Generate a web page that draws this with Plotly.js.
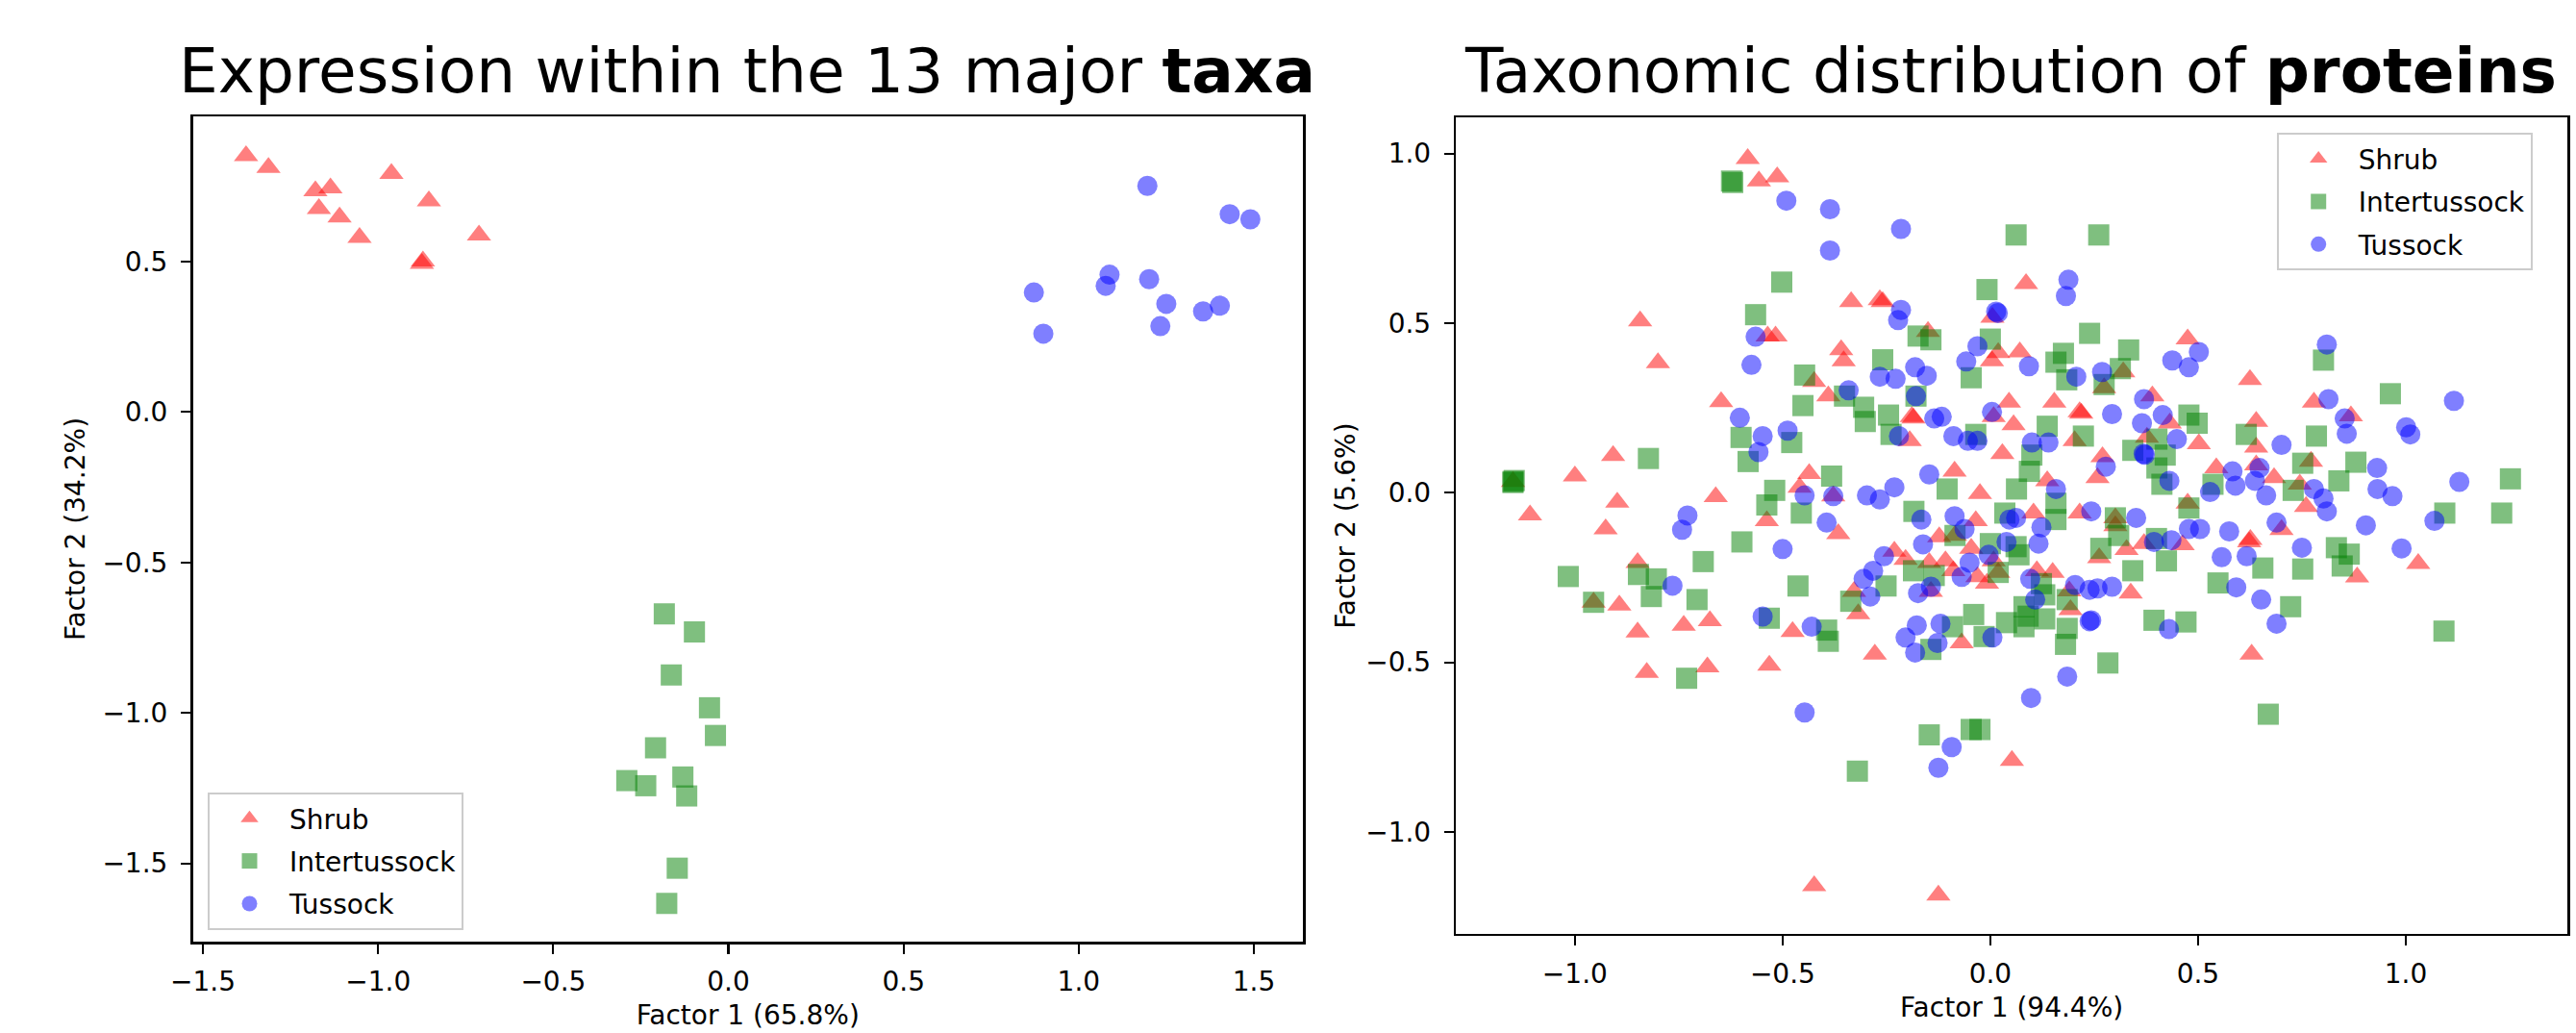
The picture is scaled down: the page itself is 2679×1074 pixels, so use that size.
<!DOCTYPE html>
<html>
<head>
<meta charset="utf-8">
<script src="https://cdn.plot.ly/plotly-3.0.1.min.js"></script>
<style>
  html, body { margin: 0; padding: 0; background: #ffffff; }
  #chart { width: 2679px; height: 1074px; }
</style>
</head>
<body>
<div id="chart"></div>
<script>
// ---- Left panel: expression within the 13 major taxa ----
const shrubL_x = [-1.377, -1.313, -1.179, -1.136, -1.169, -1.110, -1.053, -0.962, -0.855, -0.712, -0.875, -0.872];
const shrubL_y = [0.851, 0.812, 0.734, 0.744, 0.675, 0.647, 0.579, 0.792, 0.701, 0.587, 0.493, 0.501];

const interL_x = [-0.183, -0.097, -0.163, -0.054, -0.037, -0.208, -0.290, -0.236, -0.130, -0.119, -0.146, -0.176];
const interL_y = [-0.671, -0.731, -0.874, -0.983, -1.075, -1.116, -1.225, -1.242, -1.213, -1.276, -1.516, -1.633];

const tussL_x = [1.196, 1.431, 1.490, 1.088, 1.077, 1.201, 0.872, 1.250, 1.355, 1.403, 1.233, 0.899];
const tussL_y = [0.751, 0.657, 0.640, 0.456, 0.419, 0.441, 0.397, 0.359, 0.334, 0.353, 0.285, 0.260];

// ---- Right panel: taxonomic distribution of proteins ----
const shrubR_x = [-0.584, -0.557, -0.513, -0.536, -0.517, -0.843, -0.800, -0.648, -0.908, -1.000,
  -1.149, -1.108, -0.898, -0.926, -0.661, -0.538, -0.459, -0.849, -0.955, -0.893,
  -0.849, -0.738, -0.675, -0.476, -0.827, -0.681, -0.532, -0.424, -0.125, 0.052,
  -0.278, -0.069, -0.366, -0.328, -0.318, -0.231, -0.204, -0.147, -0.143, -0.108,
  -0.123, -0.085, -0.089, -0.046, -0.031, -0.008, 0.019, 0.008, 0.112, 0.150,
  0.193, 0.190, 0.262, 0.301, 0.328, 0.338, 0.370, 0.463, 0.623, 0.626,
  0.701, 0.883, 1.030, 0.629, 0.625, 0.779, 0.475, 0.640, 0.502, 0.640,
  0.868, 0.544, 0.640, 0.683, 0.745, 0.760, 0.475, 0.772, 0.086, -0.335,
  -0.266, -0.259, 0.005, -0.150, 0.019, 0.071, 0.004, 0.320, 0.274, -0.424,
  -0.359, -0.353, -0.390, -0.189, -0.185, -0.194, 0.008, 0.045, 0.056, 0.029,
  0.154, 0.215, 0.219, 0.203, 0.390, 0.432, 0.377, 0.270, 0.258, 0.137,
  0.215, 0.301, -0.086, -0.025, -0.436, -0.378, -0.035, 0.104];
const shrubR_y = [0.985, 0.919, 0.931, 0.462, 0.462, 0.506, 0.383, 0.268, 0.109, 0.049,
  0.033, -0.066, -0.028, -0.107, -0.012, -0.083, 0.016, -0.206, -0.323, -0.332,
  -0.411, -0.391, -0.378, -0.410, -0.530, -0.514, -0.509, -1.159, -1.187, -0.790,
  -0.476, -0.443, -0.121, -0.291, -0.357, -0.173, -0.197, -0.206, -0.291, -0.201,
  -0.130, -0.126, -0.230, -0.164, -0.248, -0.267, -0.235, -0.201, -0.230, -0.235,
  -0.345, -0.290, -0.192, -0.098, -0.168, -0.296, -0.150, -0.154, -0.145, -0.138,
  -0.109, -0.249, -0.209, -0.476, 0.333, 0.267, 0.453, 0.210, 0.144, 0.134,
  0.226, 0.073, 0.082, 0.044, 0.025, -0.041, -0.031, 0.092, 0.616, 0.563,
  0.569, 0.563, 0.517, 0.475, 0.413, 0.415, 0.389, 0.356, 0.309, 0.328,
  0.421, 0.389, 0.285, 0.224, 0.220, 0.153, 0.224, 0.267, 0.200, 0.115,
  0.267, 0.238, 0.234, 0.153, 0.285, 0.205, 0.163, 0.106, 0.044, 0.035,
  -0.060, -0.074, 0.063, -0.003, 0.056, -0.010, -0.083, -0.060];

const interR_x = [-0.623, -0.620, -0.502, -0.565, -0.600, -0.478, -0.583, -0.447, -0.451, -0.823,
  -1.149, -1.146, -1.149, -0.519, -0.538, -0.455, -0.598, -0.691, -0.463, -1.016, -0.847,
  -0.804, -0.816, -0.706, -0.955, -0.532, -0.731, -0.320, -0.147, -0.046, -0.025,
  0.283, -0.394, -0.390, -0.143, -0.091, -0.040, -0.015, 0.039, 0.081, 0.091,
  0.131, 0.081, 0.185, 0.181, 0.394, 0.471, -0.336, -0.251, -0.185, -0.135,
  -0.085, 0.000, 0.019, 0.069, 0.062, 0.123, 0.131, 0.185, 0.266, 0.309,
  0.343, 0.400, 0.424, 0.656, 0.548, 0.723, 0.752, 0.833, 0.864, 0.847,
  1.092, 0.669, 0.802, 0.963, 0.478, 0.498, 0.616, 0.785, 0.752, 0.880,
  0.839, 0.536, 0.729, 1.252, 1.231, 1.094, 0.478, 0.062, 0.261, -0.008,
  -0.174, -0.143, 0.239, 0.000, -0.046, 0.176, 0.158, 0.184, 0.333, 0.313,
  0.274, -0.259, -0.179, -0.351, -0.305, -0.301, -0.245, -0.239, -0.035, 0.137,
  0.224, 0.343, 0.401, 0.421, 0.401, 0.413, 0.100, 0.094, 0.063, 0.158,
  0.158, 0.301, -0.382, -0.104, -0.184, 0.035];
const interR_y = [0.919, 0.915, 0.621, 0.525, 0.163, 0.148, 0.092, 0.347, 0.257, 0.101,
  0.033, 0.036, 0.030, 0.007, -0.036, -0.060, -0.145, -0.203, -0.275, -0.247, -0.241,
  -0.254, -0.306, -0.315, -0.323, -0.370, -0.547, -0.821, -0.714, -0.698, -0.698,
  -0.502, -0.405, -0.438, -0.462, -0.395, -0.359, -0.424, -0.383, -0.395, -0.364,
  -0.372, -0.336, -0.400, -0.447, -0.376, -0.381, -0.320, -0.275, -0.230, -0.244,
  -0.126, -0.150, -0.235, -0.183, -0.159, -0.268, -0.301, -0.315, -0.164, -0.126,
  -0.230, -0.135, -0.201, -0.222, -0.266, -0.336, -0.225, -0.162, -0.181, -0.216,
  -0.408, -0.653, 0.391, 0.292, 0.229, 0.205, 0.172, 0.167, 0.087, 0.090,
  0.035, 0.025, 0.007, 0.041, -0.060, -0.060, -0.045, 0.760, 0.760, 0.599,
  0.462, 0.451, 0.470, 0.453, 0.339, 0.411, 0.385, 0.333, 0.421, 0.366,
  0.319, 0.392, 0.285, 0.285, 0.252, 0.210, 0.229, 0.172, 0.172, 0.196,
  0.167, 0.125, 0.158, 0.111, 0.073, 0.025, 0.111, 0.063, 0.011, -0.031,
  -0.079, -0.074, 0.049, 0.011, -0.055, -0.060];

const tussR_x = [-0.491, -0.565, -0.575, -0.603, -0.548, -0.488, -0.558, -0.729, -0.742, -0.447,
  -0.500, -0.765, -0.548, -0.430, -0.447, -0.093, -0.125, 0.098, 0.185, -0.204,
  -0.177, -0.181, -0.120, -0.127, 0.005, 0.239, 0.243, 0.430, -0.394, -0.305,
  -0.289, -0.282, -0.256, -0.174, -0.162, -0.143, -0.062, -0.069, -0.050, -0.004,
  0.039, 0.096, 0.108, 0.116, 0.123, 0.204, 0.239, 0.258, 0.293, 0.394,
  0.436, 0.505, 0.478, 0.575, 0.557, 0.617, 0.592, 0.652, 0.689, 0.689,
  0.750, 0.904, 0.990, 1.069, 0.810, 0.814, 1.116, 0.502, 0.478, 0.701,
  0.853, 0.858, 1.001, 1.011, 0.931, 0.932, 0.968, 1.129, 0.583, 0.590,
  0.637, 0.664, 0.648, 0.779, 0.802, 0.810, 0.529, -0.386, -0.386, -0.215,
  0.188, 0.182, -0.215, -0.222, 0.014, 0.018, -0.031, -0.058, 0.093, 0.207,
  0.269, 0.438, -0.266, -0.228, -0.181, -0.153, -0.179, -0.341, -0.135, -0.117,
  -0.220, -0.089, -0.054, -0.031, 0.004, 0.100, 0.140, 0.293, 0.365, 0.370,
  0.415, 0.369, 0.372, 0.449, 0.431, 0.278, 0.158, 0.243, 0.351, -0.147,
  -0.297, -0.266, -0.231, -0.378, -0.166, -0.086, 0.046, 0.062];
const tussR_y = [0.861, 0.460, 0.377, 0.221, 0.167, 0.183, 0.120, -0.067, -0.109, -0.008,
  -0.166, -0.274, -0.365, -0.395, -0.648, -0.750, -0.811, -0.605, -0.542, -0.427,
  -0.391, -0.471, -0.386, -0.443, -0.427, -0.379, -0.376, -0.402, -0.088, -0.254,
  -0.306, -0.230, -0.187, -0.296, -0.152, -0.277, -0.107, -0.248, -0.206, -0.183,
  -0.145, -0.254, -0.315, -0.150, -0.102, -0.272, -0.286, -0.282, -0.277, -0.145,
  -0.140, -0.107, -0.107, -0.114, -0.190, -0.187, -0.279, -0.315, -0.386, -0.088,
  -0.162, -0.096, -0.164, -0.083, 0.437, 0.276, 0.271, 0.415, 0.370, 0.141,
  0.219, 0.174, 0.193, 0.172, 0.073, 0.011, -0.010, 0.032, 0.063, 0.021,
  0.035, -0.008, 0.073, 0.011, -0.017, -0.055, 0.002, 0.836, 0.714, 0.778,
  0.628, 0.580, 0.539, 0.509, 0.534, 0.530, 0.432, 0.387, 0.373, 0.342,
  0.356, 0.390, 0.342, 0.336, 0.370, 0.345, 0.285, 0.302, 0.219, 0.224,
  0.167, 0.167, 0.153, 0.153, 0.238, 0.148, 0.148, 0.232, 0.205, 0.276,
  0.229, 0.115, 0.112, 0.158, 0.035, 0.077, 0.011, -0.055, -0.074, 0.054,
  -0.008, -0.020, 0.016, -0.010, -0.079, -0.069, -0.079, -0.074];

const groupNames = ['Shrub', 'Intertussock', 'Tussock'];
const groupColors = ['rgba(255,0,0,0.5)', 'rgba(0,128,0,0.5)', 'rgba(0,0,255,0.5)'];
const groupSymbols = ['triangle-up', 'square', 'circle'];
const groupSizes = [22, 22, 21];

const FONT = 'DejaVu Sans, Verdana, sans-serif';

function pointTrace(k, xs, ys, xa, ya, legendId) {
  return {
    type: 'scatter', mode: 'markers',
    x: xs, y: ys, xaxis: xa, yaxis: ya,
    name: groupNames[k],
    legend: legendId,
    legendgroup: legendId + k,
    marker: { symbol: groupSymbols[k], size: groupSizes[k], color: groupColors[k], line: { width: 0 } },
    hoverinfo: 'x+y+name'
  };
}

const data = [
  pointTrace(0, shrubL_x, shrubL_y, 'x', 'y', 'legend'),
  pointTrace(1, interL_x, interL_y, 'x', 'y', 'legend'),
  pointTrace(2, tussL_x, tussL_y, 'x', 'y', 'legend'),
  pointTrace(0, shrubR_x, shrubR_y, 'x2', 'y2', 'legend2'),
  pointTrace(1, interR_x, interR_y, 'x2', 'y2', 'legend2'),
  pointTrace(2, tussR_x, tussR_y, 'x2', 'y2', 'legend2')
];

function axisStyle(extra) {
  return Object.assign({
    showline: true, mirror: true, linecolor: '#000000', linewidth: 2.5,
    ticks: 'outside', ticklen: 10, tickwidth: 2.2, tickcolor: '#000000',
    showgrid: false, zeroline: false,
    dtick: 0.5, tick0: 0, tickformat: '.1f',
    tickfont: { family: FONT, size: 28, color: '#000000' },
    automargin: false,
    fixedrange: true
  }, extra);
}

function axisTitle(text, standoff) {
  return { text: text, font: { family: FONT, size: 28, color: '#000000' }, standoff: standoff };
}

const W = 2679, H = 1074;

function legendStyle(x, y) {
  return {
    x: x, y: y, xanchor: 'left', yanchor: 'top',
    font: { family: FONT, size: 28, color: '#000000' },
    bgcolor: 'rgba(255,255,255,0.8)', bordercolor: '#cccccc', borderwidth: 2,
    tracegroupgap: 5, itemwidth: 73
  };
}

const layout = {
  width: W, height: H,
  margin: { l: 0, r: 0, t: 0, b: 0, pad: 0 },
  paper_bgcolor: '#ffffff', plot_bgcolor: '#ffffff',
  showlegend: true,
  xaxis: axisStyle({ domain: [200.5 / W, 1355 / W], range: [-1.529, 1.640], anchor: 'y',
    ticklabelstandoff: 5, title: axisTitle('Factor 1 (65.8%)', 10) }),
  yaxis: axisStyle({ domain: [1 - 979 / H, 1 - 121 / H], range: [-1.760, 0.982], anchor: 'x',
    ticklabelstandoff: 8, title: axisTitle('Factor 2 (34.2%)', 10) }),
  xaxis2: axisStyle({ domain: [1514.3 / W, 2670 / W], range: [-1.286, 1.389], anchor: 'y2',
    ticklabelstandoff: 5, title: axisTitle('Factor 1 (94.4%)', 10) }),
  yaxis2: axisStyle({ domain: [1 - 970.7 / H, 1 - 122.3 / H], range: [-1.300, 1.106], anchor: 'x2',
    ticklabelstandoff: 8, title: axisTitle('Factor 2 (5.6%)', 3) }),
  legend: legendStyle(216 / W, 1 - 824 / H),
  legend2: legendStyle(2367.7 / W, 1 - 138.3 / H),
  annotations: [
    { text: 'Expression within the 13 major <b>taxa</b>', xref: 'paper', yref: 'paper',
      x: 776.5 / W, y: 1 - 73 / H, xanchor: 'center', yanchor: 'middle', showarrow: false,
      font: { family: FONT, size: 64.5, color: '#000000' } },
    { text: 'Taxonomic distribution of <b>proteins</b>', xref: 'paper', yref: 'paper',
      x: 2091 / W, y: 1 - 73 / H, xanchor: 'center', yanchor: 'middle', showarrow: false,
      font: { family: FONT, size: 64.5, color: '#000000' } }
  ]
};

Plotly.newPlot('chart', data, layout, { displayModeBar: false, staticPlot: true });
</script>
</body>
</html>
